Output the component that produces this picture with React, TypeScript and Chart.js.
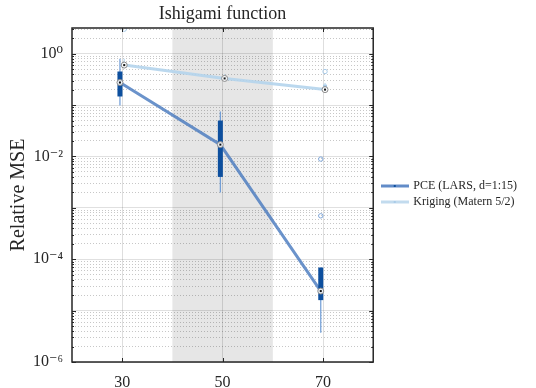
import React, { useEffect, useRef } from 'react';
import { Chart, registerables } from 'chart.js';

Chart.register(...registerables);

// ---- data ----
const sampleSizes = [30, 50, 70];

const pceLabel = 'PCE (LARS, d=1:15)';
const pceMedian = [0.275, 0.017, 2.4e-5];
const pceQ1 = [0.147, 0.004, 1.6e-5];
const pceQ3 = [0.45, 0.05, 6.9e-5];
const pceLow = [0.098, 0.002, 3.7e-6];
const pceHigh = [0.8, 0.075, 6.9e-5];
const pceOutliers = [[], [], [0.0089, 7.0e-4]];

const krigLabel = 'Kriging (Matern 5/2)';
const krigMedian = [0.6, 0.33, 0.2];
const krigQ1 = [0.56, 0.31, 0.195];
const krigQ3 = [0.66, 0.36, 0.25];
const krigLow = [0.52, 0.29, 0.19];
const krigHigh = [0.8, 0.4, 0.27];
const krigOutliers = [[3.0], [], [0.45]];

const xTicks = [30, 50, 70];
const shadedRange = [40, 60];
const yDecades = [-6, -5, -4, -3, -2, -1, 0];
const yLabelledDecades = [-6, -4, -2, 0];

const FONT = "'Liberation Serif', 'DejaVu Serif', serif";
const TEXT = '#262626';

const SUP: Record<string, string> = { '-': '⁻', '0': '⁰', '1': '¹', '2': '²', '3': '³', '4': '⁴', '5': '⁵', '6': '⁶', '7': '⁷', '8': '⁸', '9': '⁹' };
const sup = (n: number) => String(n).split('').map((c) => SUP[c]).join('');

const PCE_OFF = -0.45;
const KRIG_OFF = 0.4;

const groups = [
  { off: PCE_OFF, med: pceMedian, q1: pceQ1, q3: pceQ3, lo: pceLow, hi: pceHigh, out: pceOutliers, box: '#0d4f9e', whisk: '#6d9bd6', outc: '#7fa6d8', bw: 5 },
  { off: KRIG_OFF, med: krigMedian, q1: krigQ1, q3: krigQ3, lo: krigLow, hi: krigHigh, out: krigOutliers, box: '#a9cbe8', whisk: '#bcd8ee', outc: '#a9cbe8', bw: 4 },
];

function isDecade(v: number) {
  const e = Math.round(Math.log10(v));
  return Math.abs(v - Math.pow(10, e)) / v < 1e-6;
}

const shadePlugin = {
  id: 'shade',
  beforeDraw(chart: any) {
    const { ctx, chartArea, scales } = chart;
    const x0 = scales.x.getPixelForValue(shadedRange[0]);
    const x1 = scales.x.getPixelForValue(shadedRange[1]);
    ctx.save();
    ctx.fillStyle = '#e6e6e6';
    ctx.fillRect(x0, chartArea.top, x1 - x0, chartArea.bottom - chartArea.top);
    ctx.restore();
  },
};

const boxPlugin = {
  id: 'boxes',
  afterDatasetsDraw(chart: any) {
    const { ctx, chartArea, scales } = chart;
    const xs = scales.x;
    const ys = scales.y;
    ctx.save();
    ctx.beginPath();
    ctx.rect(chartArea.left, chartArea.top, chartArea.right - chartArea.left, chartArea.bottom - chartArea.top);
    ctx.clip();
    groups.forEach((g) => {
      sampleSizes.forEach((s, i) => {
        const px = xs.getPixelForValue(s + g.off);
        ctx.strokeStyle = g.whisk;
        ctx.lineWidth = 1.2;
        ctx.beginPath();
        ctx.moveTo(px, ys.getPixelForValue(g.lo[i]));
        ctx.lineTo(px, ys.getPixelForValue(g.hi[i]));
        ctx.stroke();
        const yq3 = ys.getPixelForValue(g.q3[i]);
        const yq1 = ys.getPixelForValue(g.q1[i]);
        ctx.fillStyle = g.box;
        ctx.fillRect(px - g.bw / 2, yq3, g.bw, yq1 - yq3);
        ctx.strokeStyle = g.outc;
        ctx.lineWidth = 1;
        g.out[i].forEach((v: number) => {
          ctx.beginPath();
          ctx.arc(px, ys.getPixelForValue(v), 2.2, 0, Math.PI * 2);
          ctx.stroke();
        });
        const ym = ys.getPixelForValue(g.med[i]);
        ctx.beginPath();
        ctx.arc(px, ym, 3, 0, Math.PI * 2);
        ctx.fillStyle = 'rgba(255,255,255,0.9)';
        ctx.fill();
        ctx.strokeStyle = '#8a8a8a';
        ctx.lineWidth = 1;
        ctx.stroke();
        ctx.fillStyle = '#111';
        ctx.fillRect(px - 1, ym - 1, 2, 2);
      });
    });
    ctx.restore();
  },
};

const framePlugin = {
  id: 'frame',
  afterDraw(chart: any) {
    const { ctx, chartArea, scales } = chart;
    const { left, right, top, bottom } = chartArea;
    ctx.save();
    ctx.strokeStyle = TEXT;
    ctx.lineWidth = 1.5;
    ctx.strokeRect(left, top, right - left, bottom - top);
    ctx.lineWidth = 1;
    ctx.beginPath();
    xTicks.forEach((v) => {
      const px = Math.round(scales.x.getPixelForValue(v)) + 0.5;
      ctx.moveTo(px, bottom);
      ctx.lineTo(px, bottom - 4);
      ctx.moveTo(px, top);
      ctx.lineTo(px, top + 4);
    });
    scales.y.ticks.forEach((t: any) => {
      const py = Math.round(scales.y.getPixelForValue(t.value)) + 0.5;
      const len = t.major ? 4 : 2;
      ctx.moveTo(left, py);
      ctx.lineTo(left + len, py);
      ctx.moveTo(right, py);
      ctx.lineTo(right - len, py);
    });
    ctx.stroke();
    ctx.restore();
  },
};

function makeLegendImage(color: string, dot: string) {
  const c = document.createElement('canvas');
  c.width = 28;
  c.height = 6;
  const g = c.getContext('2d')!;
  g.strokeStyle = color;
  g.lineWidth = 3;
  g.beginPath();
  g.moveTo(0, 3);
  g.lineTo(28, 3);
  g.stroke();
  g.fillStyle = dot;
  g.fillRect(13, 2, 2, 2);
  return c;
}

export default function App() {
  const ref = useRef<HTMLCanvasElement | null>(null);

  useEffect(() => {
    if (!ref.current) return;
    const legendImgs = [makeLegendImage('rgba(70,120,190,0.85)', '#0d4f9e'), makeLegendImage('#c2dbee', '#a9cbe8')];

    const yTickList: number[] = [];
    yDecades.forEach((e) => {
      for (let k = 1; k <= 9; k++) {
        const v = k * Math.pow(10, e);
        if (v <= Math.pow(10, 0.5)) yTickList.push(v);
      }
    });

    const chart = new Chart(ref.current, {
      type: 'scatter',
      data: {
        datasets: [
          {
            label: pceLabel,
            data: sampleSizes.map((s, i) => ({ x: s + PCE_OFF, y: pceMedian[i] })),
            showLine: true,
            borderColor: 'rgba(70,120,190,0.8)',
            backgroundColor: 'rgba(70,120,190,0.8)',
            borderWidth: 3,
            pointRadius: 0,
          },
          {
            label: krigLabel,
            data: sampleSizes.map((s, i) => ({ x: s + KRIG_OFF, y: krigMedian[i] })),
            showLine: true,
            borderColor: 'rgba(180,212,236,0.9)',
            backgroundColor: 'rgba(180,212,236,0.9)',
            borderWidth: 3,
            pointRadius: 0,
          },
        ],
      },
      options: {
        animation: false,
        responsive: true,
        maintainAspectRatio: false,
        layout: { padding: { right: 9, left: 0, top: 0, bottom: 0 } },
        plugins: {
          tooltip: { enabled: false },
          title: {
            display: true,
            fullSize: false,
            text: 'Ishigami function',
            color: TEXT,
            font: { family: FONT, size: 18, weight: 'normal' },
            padding: { top: 3, bottom: 3.4 },
          },
          legend: {
            position: 'right',
            align: 'center',
            maxWidth: 250,
            labels: {
              usePointStyle: true,
              pointStyleWidth: 25,
              boxHeight: 6,
              padding: 4,
              color: TEXT,
              font: { family: FONT, size: 12 },
              generateLabels: (ch: any) =>
                Chart.defaults.plugins.legend.labels.generateLabels(ch).map((it: any, i: number) => ({ ...it, pointStyle: legendImgs[i] })),
            },
          },
        },
        scales: {
          x: {
            type: 'linear',
            min: 20,
            max: 80,
            afterBuildTicks: (scale: any) => {
              scale.ticks = xTicks.map((v) => ({ value: v }));
            },
            afterFit: (scale: any) => {
              scale.height = 26;
            },
            ticks: {
              color: TEXT,
              font: { family: FONT, size: 16 },
              padding: 11,
              autoSkip: false,
              maxRotation: 0,
              callback: (v: any) => String(v),
            },
            grid: { color: 'rgba(0,0,0,0.13)', lineWidth: 1, drawTicks: false },
            border: { display: false },
          },
          y: {
            type: 'logarithmic',
            min: 1e-6,
            max: Math.pow(10, 0.5),
            afterBuildTicks: (scale: any) => {
              scale.ticks = yTickList.map((v) => ({ value: v, major: isDecade(v) }));
            },
            afterFit: (scale: any) => {
              scale.width = 72;
            },
            ticks: {
              color: TEXT,
              font: { family: FONT, size: 16 },
              padding: 9,
              autoSkip: false,
              callback: (v: any) => {
                const n = Number(v);
                if (!isDecade(n)) return '';
                const e = Math.round(Math.log10(n));
                return yLabelledDecades.includes(e) ? '10' + sup(e) : '';
              },
            },
            grid: {
              drawTicks: false,
              lineWidth: 1,
              color: (c: any) => (c.tick && c.tick.major ? 'rgba(0,0,0,0.12)' : 'rgba(0,0,0,0.22)'),
            },
            border: {
              display: false,
              dash: (c: any) => (c.tick && !c.tick.major ? [1, 2] : []),
            },
            title: {
              display: true,
              text: 'Relative MSE',
              color: TEXT,
              font: { family: FONT, size: 20 },
              padding: { top: 7, bottom: 0 },
            },
          },
          y2: {
            type: 'linear',
            position: 'right',
            display: true,
            afterFit: (scale: any) => {
              scale.width = 5;
            },
            ticks: { display: false },
            grid: { display: false, drawTicks: false },
            border: { display: false },
          },
        },
      },
      plugins: [shadePlugin, boxPlugin, framePlugin],
    } as any);
    return () => chart.destroy();
  }, []);

  return (
    <div style={{ position: 'fixed', left: 0, top: 0, width: 536, height: 388, background: '#fff' }}>
      <canvas ref={ref} />
    </div>
  );
}
